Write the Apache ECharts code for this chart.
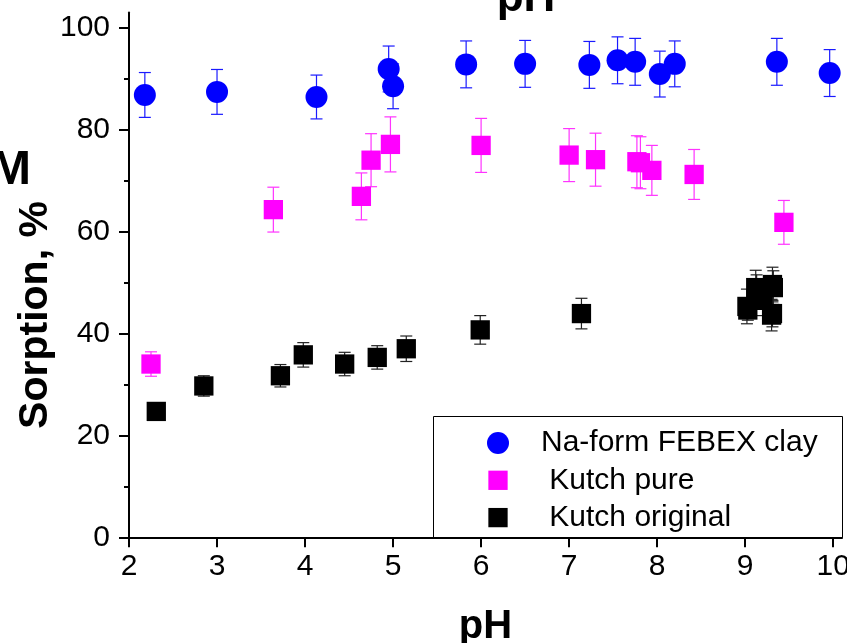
<!DOCTYPE html>
<html>
<head>
<meta charset="utf-8">
<script src="https://cdn.jsdelivr.net/npm/echarts@6/dist/echarts.min.js"></script>
<style>
html, body { margin: 0; padding: 0; background: #fff; overflow: hidden; }
#chart { width: 847px; height: 643px; }
</style>
</head>
<body>
<div id="chart"></div>
<script>
// Na-form FEBEX clay
const phNa = [2.18, 3.00, 4.13, 4.95, 5.00, 5.83, 6.50, 7.23, 7.55, 7.75, 8.03, 8.20, 9.36, 9.96]
const sorpNa = [86.8, 87.4, 86.4, 91.9, 88.5, 92.8, 92.9, 92.7, 93.6, 93.3, 90.9, 92.9, 93.3, 91.1]
const errNa = [4.4, 4.4, 4.3, 4.5, 4.4, 4.6, 4.6, 4.6, 4.6, 4.6, 4.5, 4.5, 4.6, 4.6]

// Kutch pure
const phPure = [2.25, 3.64, 4.64, 4.75, 4.97, 6.00, 7.00, 7.30, 7.77, 7.81, 7.94, 8.42, 9.44]
const sorpPure = [34.0, 64.3, 66.9, 74.0, 77.1, 76.9, 75.0, 74.1, 73.7, 73.5, 72.0, 71.2, 61.8]
const errPure = [2.4, 4.4, 4.6, 5.2, 5.4, 5.3, 5.2, 5.2, 5.1, 5.1, 4.9, 4.9, 4.3]

// Kutch original
const phOrig = [2.31, 2.85, 3.72, 3.98, 4.45, 4.82, 5.15, 5.99, 7.14, 9.02, 9.03, 9.12, 9.13, 9.20, 9.31, 9.32, 9.30, 9.31]
const sorpOrig = [24.7, 29.7, 31.7, 35.8, 34.0, 35.3, 37.0, 40.7, 43.9, 45.3, 44.6, 49.0, 48.4, 46.5, 49.6, 49.0, 43.6, 43.9]
const errOrig = [1.5, 2.0, 2.2, 2.4, 2.3, 2.3, 2.5, 2.8, 3.0, 3.4, 2.0, 3.4, 3.1, 3.0, 3.4, 3.3, 3.1, 2.6]

const xTicks = [2, 3, 4, 5, 6, 7, 8, 9, 10]
const yTicks = [0, 20, 40, 60, 80, 100]
const yMinorTicks = [10, 30, 50, 70, 90]

const FONT = "'Liberation Sans', Arial, sans-serif"
const squareIcon = "path://M0,0M22,22M1.35,1.35h19.3v19.3h-19.3z"

function points(xs, ys, errs) {
  return xs.map((x, i) => [x, ys[i], errs[i]])
}

function errorBars(color) {
  return function (params, api) {
    const x = api.value(0)
    const y = api.value(1)
    const e = api.value(2)
    const top = api.coord([x, y + e])
    const bottom = api.coord([x, y - e])
    const half = 6
    const style = {stroke: color, lineWidth: 1.2}
    return {
      type: "group",
      children: [
        {type: "line", shape: {x1: top[0], y1: top[1], x2: bottom[0], y2: bottom[1]}, style},
        {type: "line", shape: {x1: top[0] - half, y1: top[1], x2: top[0] + half, y2: top[1]}, style},
        {type: "line", shape: {x1: bottom[0] - half, y1: bottom[1], x2: bottom[0] + half, y2: bottom[1]}, style},
      ],
    }
  }
}

function errSeries(name, data, color) {
  return {
    name,
    type: "custom",
    data,
    encode: {x: 0, y: 1},
    renderItem: errorBars(color),
    z: 1,
    silent: true,
  }
}

const myChart = echarts.init(document.getElementById("chart"))

const option = {
  animation: false,
  grid: {left: 129, right: 5, top: 12.4, bottom: 105.7, outerBoundsMode: "none", containLabel: false},
  xAxis: {
    type: "value",
    min: 2,
    max: 10.1,
    name: "pH",
    nameLocation: "middle",
    nameGap: 70,
    nameTextStyle: {fontFamily: FONT, fontSize: 40, fontWeight: "bold", color: "#000"},
    axisLine: {lineStyle: {color: "#000", width: 2}},
    axisTick: {customValues: xTicks, length: 10, lineStyle: {color: "#000", width: 2}},
    axisLabel: {customValues: xTicks, margin: 14, fontFamily: FONT, fontSize: 30, color: "#000"},
    splitLine: {show: false},
  },
  yAxis: [
    {
      type: "value",
      min: 0,
      max: 103,
      position: "left",
      axisLine: {show: true, lineStyle: {color: "#000", width: 2}},
      axisTick: {show: true, customValues: yTicks, length: 10, lineStyle: {color: "#000", width: 2}},
      axisLabel: {customValues: yTicks, margin: 19, fontFamily: FONT, fontSize: 30, color: "#000"},
      splitLine: {show: false},
    },
    {
      type: "value",
      min: 0,
      max: 103,
      position: "left",
      axisLine: {show: false},
      axisTick: {show: true, customValues: yMinorTicks, length: 5, lineStyle: {color: "#000", width: 2}},
      axisLabel: {show: false},
      splitLine: {show: false},
    },
  ],
  legend: {
    orient: "vertical",
    left: 487,
    top: 428,
    padding: 0,
    itemWidth: 76,
    itemHeight: 22,
    itemGap: 7.3,
    selectedMode: false,
    textStyle: {fontFamily: FONT, fontSize: 30, lineHeight: 30, color: "#000"},
    data: [
      {name: "Na-form FEBEX clay", icon: "circle"},
      {name: " Kutch pure", icon: squareIcon},
      {name: " Kutch original", icon: squareIcon},
    ],
  },
  graphic: [
    {
      type: "rect",
      shape: {x: 433.5, y: 416.5, width: 409, height: 121},
      style: {fill: "none", stroke: "#000", lineWidth: 1},
      silent: true,
    },
    {
      type: "text",
      x: 35.5,
      y: 315,
      rotation: Math.PI / 2,
      style: {text: "Sorption, %", font: "bold 41px " + FONT, fill: "#000", textAlign: "center", textVerticalAlign: "middle"},
    },
    {
      type: "text",
      x: 31,
      y: 170,
      style: {text: "M", font: "bold 49px " + FONT, fill: "#000", textAlign: "right", textVerticalAlign: "middle"},
    },
    {
      type: "text",
      x: 526,
      y: -1,
      style: {text: "pH", font: "bold 44px " + FONT, fill: "#000", textAlign: "center", textVerticalAlign: "middle"},
    },
  ],
  series: [
    errSeries("errNa", points(phNa, sorpNa, errNa), "#1a1aff"),
    errSeries("errPure", points(phPure, sorpPure, errPure), "#ff33ff"),
    errSeries("errOrig", points(phOrig, sorpOrig, errOrig), "#222"),
    {
      name: "Na-form FEBEX clay",
      type: "scatter",
      data: points(phNa, sorpNa, errNa),
      symbol: "circle",
      symbolSize: 22,
      itemStyle: {color: "#0000ff", opacity: 1},
      z: 2,
    },
    {
      name: " Kutch pure",
      type: "scatter",
      data: points(phPure, sorpPure, errPure),
      symbol: "rect",
      symbolSize: 19.3,
      itemStyle: {color: "#ff00ff", opacity: 1},
      z: 2,
    },
    {
      name: " Kutch original",
      type: "scatter",
      data: points(phOrig, sorpOrig, errOrig),
      symbol: "rect",
      symbolSize: 19.3,
      itemStyle: {color: "#000000", opacity: 1},
      z: 2,
    },
  ],
}

myChart.setOption(option)
</script>
</body>
</html>
